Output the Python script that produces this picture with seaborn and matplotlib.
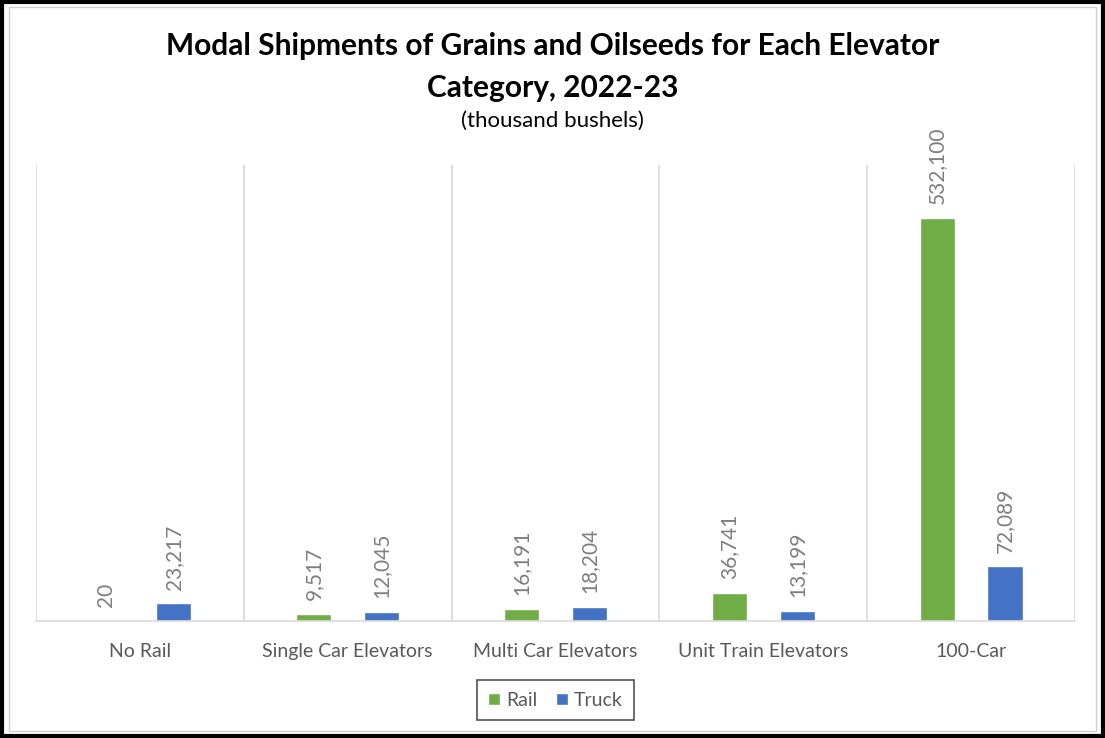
import matplotlib
matplotlib.use("Agg")
import matplotlib.pyplot as plt
import matplotlib.patches as mpatches
import pandas as pd
import seaborn as sns

# data (thousand bushels)
categories = ["No Rail", "Single Car Elevators", "Multi Car Elevators",
              "Unit Train Elevators", "100-Car"]
rail = [20, 9517, 16191, 36741, 532100]
truck = [23217, 12045, 18204, 13199, 72089]

df = pd.DataFrame({
    "category": categories * 2,
    "mode": ["Rail"] * len(categories) + ["Truck"] * len(categories),
    "value": rail + truck,
})

sns.set_theme(style="white")
plt.rcParams["font.family"] = ["Lato", "DejaVu Sans"]

fig = plt.figure(figsize=(11.05, 7.38), dpi=100)
ax = fig.add_axes([0.0326, 0.1585, 0.9403, 0.6179])

colors = {"Rail": "#70AD47", "Truck": "#4472C4"}
sns.barplot(data=df, x="category", y="value", hue="mode", palette=colors,
            order=categories, hue_order=["Rail", "Truck"], saturation=1,
            width=0.652, gap=0.48, ax=ax, legend=True)

ax.set_ylim(0, 602000)
ax.set_xlim(-0.5, len(categories) - 0.5)
ax.set_xlabel("")
ax.set_ylabel("")
ax.set_yticks([])

# vertical separators between categories
for x in [i - 0.5 for i in range(len(categories) + 1)]:
    ax.axvline(x, color="#d9d9d9", lw=1.2, zorder=0)

for s in ["top", "left", "right"]:
    ax.spines[s].set_visible(False)
ax.spines["bottom"].set_color("#d9d9d9")
ax.spines["bottom"].set_linewidth(1.2)

ax.tick_params(axis="x", length=0, pad=16, labelsize=14, labelcolor="#595959")

for cont in ax.containers:
    ax.bar_label(cont, labels=[f"{v:,.0f}" for v in cont.datavalues],
                 rotation=90, padding=10, fontsize=15, color="#7f7f7f")

leg = ax.legend(loc="upper center", bbox_to_anchor=(0.5, -0.108), ncol=2,
                frameon=True, fontsize=14, handlelength=0.6, handleheight=0.6,
                handletextpad=0.3, columnspacing=1.0, borderpad=0.6,
                fancybox=False)
leg.get_frame().set_edgecolor("#262626")
leg.get_frame().set_linewidth(1.2)
for t in leg.get_texts():
    t.set_color("#595959")

fig.text(0.5, 0.937, "Modal Shipments of Grains and Oilseeds for Each Elevator",
         ha="center", va="center", fontsize=21.5, fontweight="bold", color="#000000")
fig.text(0.5, 0.881, "Category, 2022-23", ha="center", va="center",
         fontsize=21.5, fontweight="bold", color="#000000")
fig.text(0.5, 0.836, "(thousand bushels)", ha="center", va="center",
         fontsize=16, color="#000000")

# chart frame
fig.patches.append(mpatches.Rectangle((0.002, 0.003), 0.996, 0.994, transform=fig.transFigure,
                                      fill=False, edgecolor="black", lw=3))
fig.patches.append(mpatches.Rectangle((0.008, 0.01), 0.984, 0.98, transform=fig.transFigure,
                                      fill=False, edgecolor="#d0d0d0", lw=1))

fig.savefig("out.png", dpi=100)
